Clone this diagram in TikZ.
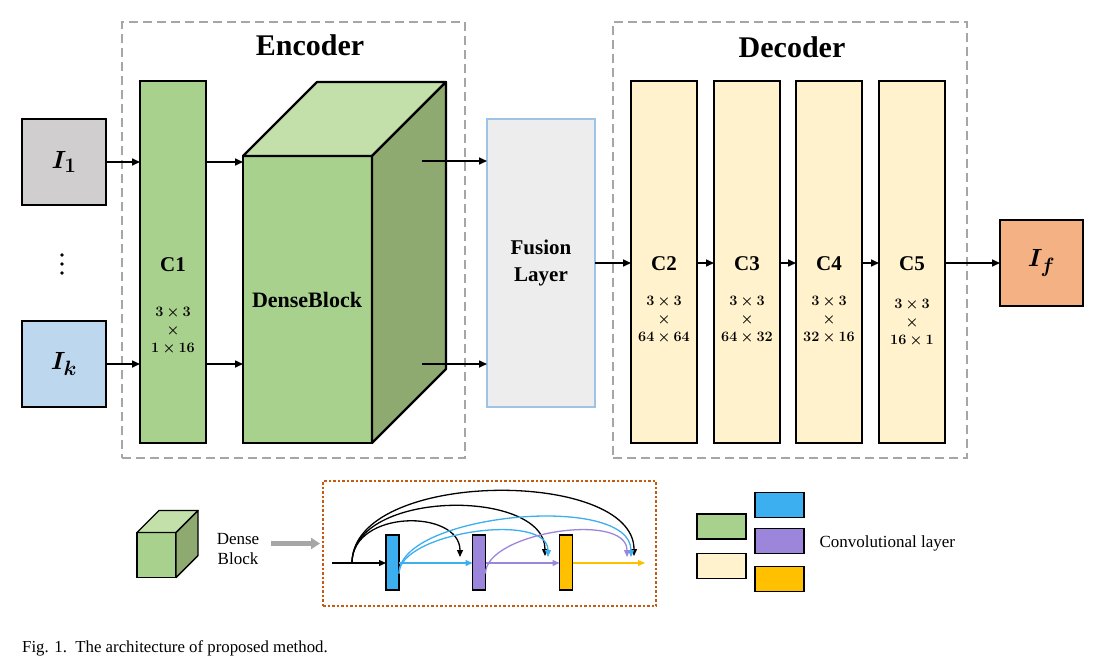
\documentclass[tikz,border=0pt]{standalone}
\usepackage{bm}
\usepackage{fontspec}
\setmainfont{Liberation Serif}
\usetikzlibrary{arrows.meta}

\definecolor{cgreen}{HTML}{A9D18E}
\definecolor{cgreentop}{HTML}{C3DFAA}
\definecolor{cgreenside}{HTML}{8EAA70}
\definecolor{cream}{HTML}{FFF2CC}
\definecolor{forange}{HTML}{F4B183}
\definecolor{imggray}{HTML}{D0CECE}
\definecolor{imgblue}{HTML}{BDD7EE}
\definecolor{fusefill}{HTML}{EDEDED}
\definecolor{fuseline}{HTML}{9DC3E6}
\definecolor{grayline}{HTML}{A6A6A6}
\definecolor{dotbrown}{HTML}{C55A11}
\definecolor{dblue}{HTML}{3CAFF0}
\definecolor{dpurple}{HTML}{9B86DC}
\definecolor{dyellow}{HTML}{FFC000}

\begin{document}
\begin{tikzpicture}[
      x = 1pt, y = -1pt,
      blk/.style = {draw = black, line width = 2.2pt, outer sep = 0pt, inner sep = 0pt},
      face/.style = {draw = black, line width = 2.2pt, line join = round},
      conv/.style = {blk, minimum width = 66pt, minimum height = 362pt},
      imgbox/.style = {blk, minimum width = 84pt, minimum height = 86pt,
        font = \fontsize{28}{32}\selectfont},
      groupbox/.style = {draw = grayline, line width = 2.5pt, dash pattern = on 9pt off 5pt,
        outer sep = 0pt, inner sep = 0pt},
      bar/.style = {draw = black, line width = 1.4pt, minimum width = 13pt, minimum height = 55pt,
        outer sep = 0pt, inner sep = 0pt},
      legend/.style = {draw = black, line width = 1.4pt, minimum width = 49pt, minimum height = 25pt,
        outer sep = 0pt, inner sep = 0pt},
      arr/.style = {line width = 1.6pt, -{Triangle[length = 8pt, width = 7pt]}},
      thin arr/.style = {line width = 1.3pt, -{Triangle[length = 7pt, width = 6pt]}},
      title/.style = {font = \fontsize{30}{36}\selectfont\bfseries},
      clbl/.style = {font = \fontsize{21}{25}\selectfont\bfseries},
      dims/.style = {font = \fontsize{15}{18}\selectfont, align = center},
      plain/.style = {font = \fontsize{17}{20}\selectfont, align = center}
      ]
    \useasboundingbox (0,0) rectangle (1112,665);

    % encoder and decoder frames
    \node[groupbox, minimum width = 343pt, minimum height = 436pt] (enc) at (293.5,240) {};
    \node[groupbox, minimum width = 354pt, minimum height = 436pt] (dec) at (790,240) {};
    \node[title] (enct) at (310,45) {Encoder};
    \node[title] (dect) at (792,47) {Decoder};

    % inputs
    \node[imgbox, fill = imggray] (I1) at (64,162) {$\bm{I_1}$};
    \node[imgbox, fill = imgblue] (Ik) at (64,364) {$\bm{I_k}$};
    \coordinate (dots) at (62,264);
    \fill (dots) ++(0,-9) circle (1.8pt) ++(0,9) circle (1.8pt) ++(0,9) circle (1.8pt);

    % encoder
    \node[conv, fill = cgreen] (C1) at (173,262) {};
    \node[clbl] (C1t) at (173,265) {C1};
    \node[dims] (C1d) at (173,331) {$\bm{3\times3}$\\$\bm{\times}$\\$\bm{1\times16}$};

    \node[blk, fill = cgreen, minimum width = 129pt, minimum height = 287pt] (dense) at (307.5,299.5) {};
    \draw[face, fill = cgreentop] (dense.north west) -- ++(74,-74) -- ++(129,0)
      -- (dense.north east) -- cycle;
    \draw[face, fill = cgreenside] (dense.north east) -- ++(74,-74) -- ++(0,287)
      -- (dense.south east) -- cycle;
    \node[font = \fontsize{22}{26}\selectfont\bfseries] (denset) at (307,300) {DenseBlock};
    \coordinate (o1) at (422,161);
    \coordinate (o2) at (422,364);

    % fusion
    \node[blk, draw = fuseline, fill = fusefill, minimum width = 108pt, minimum height = 288pt]
      (fuse) at (541,263) {};
    \node[align = center, font = \fontsize{21}{27}\selectfont\bfseries] (fuset) at (541,263)
      {Fusion\\Layer};

    % decoder
    \node[conv, fill = cream] (C2) at (664,262) {};
    \node[conv, fill = cream] (C3) at (747,262) {};
    \node[conv, fill = cream] (C4) at (829,262) {};
    \node[conv, fill = cream] (C5) at (912,262) {};
    \node[clbl] (C2t) at (664,264) {C2};
    \node[clbl] (C3t) at (747,264) {C3};
    \node[clbl] (C4t) at (829,264) {C4};
    \node[clbl] (C5t) at (912,264) {C5};
    \node[dims] (C2d) at (664,320) {$\bm{3\times3}$\\$\bm{\times}$\\$\bm{64\times64}$};
    \node[dims] (C3d) at (747,320) {$\bm{3\times3}$\\$\bm{\times}$\\$\bm{64\times32}$};
    \node[dims] (C4d) at (829,320) {$\bm{3\times3}$\\$\bm{\times}$\\$\bm{32\times16}$};
    \node[dims] (C5d) at (912,323) {$\bm{3\times3}$\\$\bm{\times}$\\$\bm{16\times1}$};

    \node[imgbox, fill = forange, minimum width = 83pt] (If) at (1041.5,263) {$\bm{I_f}$};

    % main arrows
    \draw[arr] (I1.east) -- (I1.east -| C1.west);
    \draw[arr] (Ik.east) -- (Ik.east -| C1.west);
    \draw[arr] (C1.east |- I1.east) -- (dense.west |- I1.east);
    \draw[arr] (C1.east |- Ik.east) -- (dense.west |- Ik.east);
    \draw[arr] (o1) -- (o1 -| fuse.west);
    \draw[arr] (o2) -- (o2 -| fuse.west);
    \draw[arr] (fuse.east) -- (fuse.east -| C2.west);
    \draw[arr] (fuse.east -| C2.east) -- (fuse.east -| C3.west);
    \draw[arr] (fuse.east -| C3.east) -- (fuse.east -| C4.west);
    \draw[arr] (fuse.east -| C4.east) -- (fuse.east -| C5.west);
    \draw[arr] (fuse.east -| C5.east) -- (If.west);

    % small dense block
    \node[blk, line width = 1.4pt, fill = cgreen, minimum width = 39pt, minimum height = 45pt]
      (sdense) at (156.5,555) {};
    \draw[face, line width = 1.4pt, fill = cgreentop] (sdense.north west) -- ++(22,-22)
      -- ++(39,0) -- (sdense.north east) -- cycle;
    \draw[face, line width = 1.4pt, fill = cgreenside] (sdense.north east) -- ++(22,-22)
      -- ++(0,45) -- (sdense.south east) -- cycle;
    \node[plain] (sdenset) at (238,549) {Dense\\Block};

    % dense block detail
    \node[draw = dotbrown, line width = 2.5pt, dotted, minimum width = 333pt, minimum height = 125pt,
      outer sep = 0pt] (dbox) at (489.5,543.5) {};
    \draw[draw = grayline, line width = 4.5pt, -{Triangle[length = 9pt, width = 11pt]}]
      ([xshift = 8pt]sdenset.east |- dbox.west) -- ([xshift = -3pt]dbox.west);

    \node[bar, fill = dblue] (b1) at (392.5,562.5) {};
    \node[bar, fill = dpurple] (b2) at (479,562.5) {};
    \node[bar, fill = dyellow] (b3) at (566,562.5) {};
    \coordinate (in) at (332,563);
    \coordinate (s0) at (352,563);
    \coordinate (out) at (645,563);

    \draw[thin arr] (in) -- (in -| b1.west);
    \draw[thin arr, dblue] (b1.east |- in) -- (b2.west |- in);
    \draw[thin arr, dpurple] (b2.east |- in) -- (b3.west |- in);
    \draw[thin arr, dyellow] (b3.east |- in) -- (out);

    \draw[thin arr] (s0) .. controls +(0,-54) and +(0,-48) .. (460,557);
    \draw[thin arr] (s0) .. controls +(0,-74) and +(0,-68) .. (545,556);
    \draw[thin arr] (s0) .. controls +(0,-94) and +(0,-88) .. (634,556);
    \draw[thin arr, dblue] ([yshift = -11pt]b1.east) .. controls +(0,-41) and +(0,-46) .. (548,557);
    \draw[thin arr, dblue] ([yshift = -11pt]b1.east) .. controls +(0,-60) and +(0,-65) .. (631,557);
    \draw[thin arr, dpurple] ([yshift = -11pt]b2.east) .. controls +(0,-41) and +(0,-46) .. (627,557);

    % legend
    \node[legend, fill = cgreen] (lg1) at (721.5,526.5) {};
    \node[legend, fill = cream] (lg2) at (721.5,566) {};
    \node[legend, fill = dblue] (lg3) at (779.5,505) {};
    \node[legend, fill = dpurple] (lg4) at (779.5,541) {};
    \node[legend, fill = dyellow] (lg5) at (779.5,579) {};
    \node[plain, anchor = west] (lgt) at (816,543) {Convolutional layer};

    % caption
    \node[anchor = west, font = \fontsize{16.8}{20}\selectfont, inner sep = 0pt] (cap) at (22,648)
      {Fig. 1.\enspace The architecture of proposed method.};
  \end{tikzpicture}
\end{document}
